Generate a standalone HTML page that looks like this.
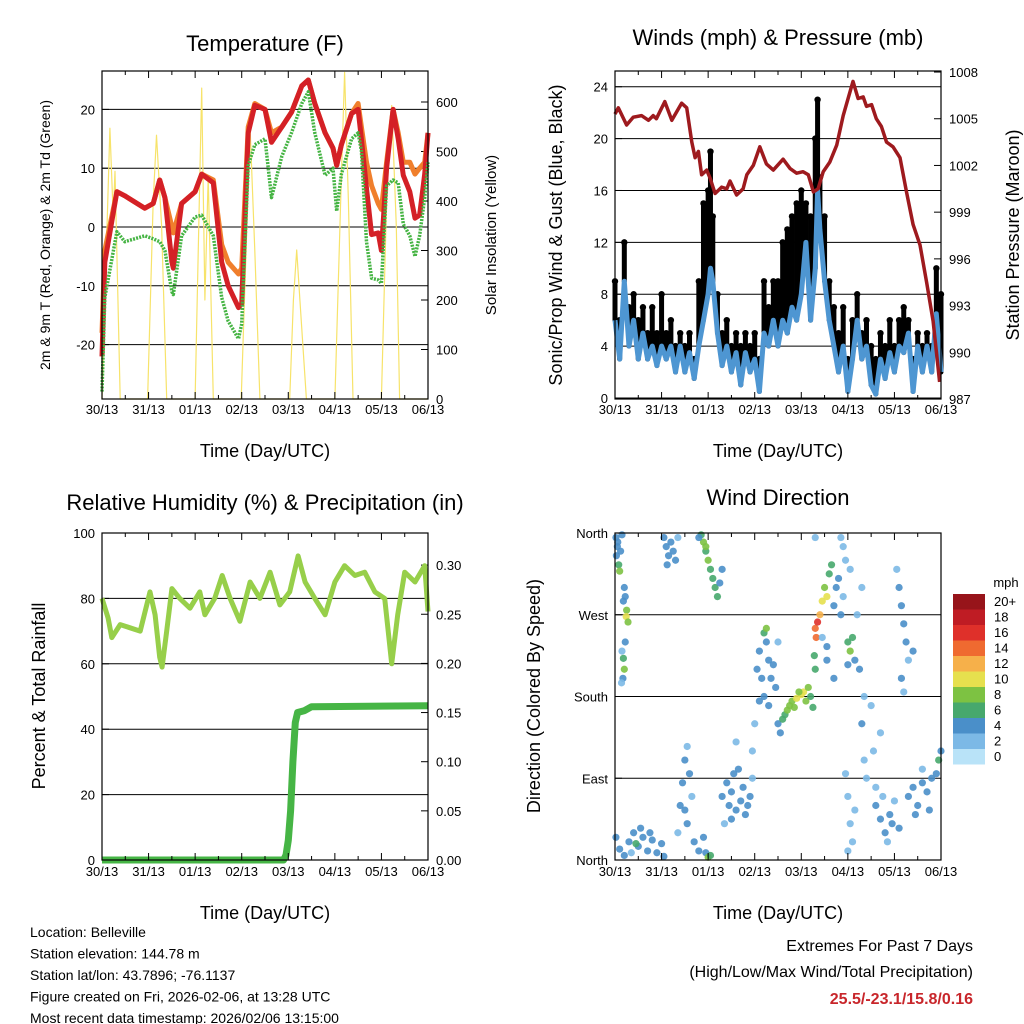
<!DOCTYPE html>
<html><head><meta charset="utf-8"><style>
body{margin:0;background:#fff}
svg{display:block;font-family:"Liberation Sans",sans-serif}
</style></head><body>
<svg id="c" width="1024" height="1024" viewBox="0 0 1024 1024" xmlns="http://www.w3.org/2000/svg">
<rect width="1024" height="1024" fill="#fff"/>
</svg>
<script>
// ---------- data ----------
const dayLabels=["30/13","31/13","01/13","02/13","03/13","04/13","05/13","06/13"];
const tTime=[0,0.06,0.32,0.49,0.92,1.1,1.24,1.35,1.5,1.53,1.71,2.0,2.14,2.39,2.57,2.71,2.93,3.0,3.14,3.28,3.5,3.64,3.86,4.07,4.29,4.43,4.57,4.79,4.96,5.04,5.14,5.36,5.5,5.57,5.68,5.79,5.93,6.0,6.11,6.25,6.36,6.47,6.61,6.72,6.82,6.93,7.0];
const tRed=[-22,-6,6,5.3,3.2,4,8,5,-6,-7,4,6,9,7.5,-6,-10,-13.7,-13,16,20.7,20,14.4,17,19.5,24,25,21,16,13.4,10.5,14,19.3,20,15,6.6,-1.3,-1,-4,10,20,15,8.8,6,1.5,2,9,16];
const tOrange=[-18,-4,6,5.3,3.2,4,8,5,0,-1,4,6,9,8,-3,-6,-8,-7,17,21,20,16,17,19.5,24,25,21,16,13.4,10.5,14,19.3,21,17,11,7,4,3,11,20,16,11,11,9,10,11,16];
const tDew=[-28,-12,-0.8,-2.5,-1.5,-2,-2.5,-4,-11,-11.5,-1.5,1.7,2,-1.5,-12,-16,-19,-16.5,10.5,14,15,5,12,16,21,23,16,8.8,10,2.7,9,15,16,13,-2.5,-8.7,-9,-9.6,7,8,7.5,0.5,-1.5,-5,-1.5,5,11];
const solarTime=[0,0.17,0.24,0.28,0.39,0.98,1.10,1.17,1.28,1.39,2.00,2.14,2.21,2.28,2.39,2.99,3.18,3.28,3.39,4.03,4.11,4.18,4.25,4.39,5.0,5.14,5.21,5.29,5.39,6.0,6.11,6.22,6.32,6.39,7.0];
const solarVal=[0,547,370,460,0,0,400,533,350,0,0,628,200,450,0,0,547,300,0,0,200,301,200,0,0,450,660,400,0,0,400,593,350,0,0];
const presTime=[0,0.07,0.25,0.39,0.57,0.72,0.82,0.89,1.07,1.22,1.43,1.54,1.65,1.72,1.79,1.86,1.97,2.04,2.15,2.29,2.40,2.47,2.61,2.75,2.83,2.97,3.11,3.25,3.40,3.61,3.76,3.90,4.04,4.15,4.26,4.36,4.47,4.61,4.76,4.90,5.11,5.22,5.33,5.40,5.51,5.61,5.72,5.83,5.97,6.12,6.26,6.40,6.55,6.69,6.83,6.97];
const presVal=[1005.3,1005.7,1004.6,1005.1,1005.2,1004.9,1005.2,1005.0,1006.1,1004.9,1006.0,1005.7,1003.5,1002.5,1002.9,1001.4,1001.7,1001.2,1000.2,1000.6,1000.5,1001.0,1000.1,1000.5,1001.4,1002.0,1003.2,1002.1,1001.7,1002.4,1001.8,1001.5,1001.6,1001.4,1000.3,1000.5,1001.6,1002.2,1003.3,1005.2,1007.4,1006.3,1006.4,1005.8,1005.9,1005.0,1004.5,1003.5,1003.2,1002.5,1000.3,998.2,996.9,994.5,992.0,988.1];
const windTime=[0,0.1,0.2,0.3,0.4,0.5,0.6,0.7,0.8,0.9,1.0,1.1,1.2,1.3,1.4,1.5,1.6,1.7,1.8,1.9,2.0,2.05,2.1,2.2,2.3,2.4,2.5,2.6,2.7,2.8,2.9,3.0,3.1,3.2,3.3,3.4,3.5,3.6,3.7,3.8,3.9,4.0,4.1,4.2,4.3,4.35,4.4,4.5,4.6,4.7,4.8,4.9,5.0,5.1,5.2,5.3,5.4,5.5,5.6,5.7,5.8,5.9,6.0,6.1,6.2,6.3,6.4,6.5,6.6,6.7,6.8,6.9,7.0];
const windSpd=[6,3,9,4,6,3,5,3,4,2.5,4,3,4,2,4,2,3.5,1.5,4,6,8,10,9,5,2.5,4,2,3.5,1,3.5,2,3,0.5,5,4,6,4,6,5,7,6,8,12,6,10,16,13,9,6,4,2,4,0.5,3,6,3,4,1,0.3,3,1.5,3.5,2,4,3.5,5,0.5,4,2,4,2,6.5,2];
const windGust=[9,6,12,7,8,6,7,5,7,5,8,5,6,4,5,4,5,3,9,15,16,19,14,8,5,6,4,5,4,5,4,5,3,9,7,9,9,12,13,14,15,16,15,14,20,23,17,14,9,7,5,7,3,6,8,5,6,4,3,5,4,6,4,6,7,6,3,5,4,5,4,10,8];
const rhTime=[0,0.13,0.21,0.39,0.82,1.03,1.14,1.24,1.29,1.39,1.5,1.67,1.89,2.1,2.21,2.42,2.58,2.75,2.96,3.18,3.39,3.61,3.82,4.03,4.21,4.36,4.57,4.79,5.0,5.21,5.43,5.64,5.86,6.07,6.22,6.35,6.5,6.72,6.93,7.0];
const rhVal=[80,74,68,72,70,82,75,62,59,70,83,80,77,82,75,80,87,80,73,85,80,88,78,82,93,85,80,75,85,90,87,88,82,80,60,75,88,85,90,76];
const precipTime=[0,3.9,3.95,4.0,4.05,4.1,4.15,4.2,4.35,4.5,7.0];
const precipVal=[0,0,0.005,0.02,0.05,0.1,0.14,0.15,0.152,0.156,0.157];
const dirTime=[0.02,0.05,0.03,0.08,0.1,0.06,0.12,0.15,0.2,0.22,0.25,0.24,0.28,0.18,0.15,0.18,0.2,0.17,0.14,0.22,
0.02,0.1,0.2,0.3,0.4,0.5,0.6,0.7,0.8,0.9,1.0,1.05,0.35,0.55,0.75,0.45,
1.05,1.1,1.15,1.2,1.25,1.3,1.35,1.12,
1.35,1.4,1.45,1.5,1.55,1.6,1.5,1.55,1.7,1.8,1.9,1.95,2.0,2.05,1.65,
1.85,1.9,1.95,2.0,2.05,2.1,2.15,2.2,1.95,1.8,2.25,2.3,
2.3,2.4,2.45,2.5,2.55,2.6,2.7,2.75,2.8,2.9,2.95,2.5,2.65,2.85,2.35,2.6,3.0,2.95,
3.05,3.1,3.15,3.2,3.25,3.3,3.35,3.4,3.45,3.2,3.1,3.3,3.25,3.5,
3.5,3.55,3.6,3.65,3.7,3.75,3.8,3.9,4.0,4.05,4.1,4.15,4.2,4.25,4.3,4.28,3.85,3.95,
4.3,4.35,4.32,4.4,4.45,4.5,4.55,4.6,4.65,4.7,4.75,4.8,4.85,4.9,4.45,4.55,4.7,4.55,
4.3,4.9,4.95,5.05,4.85,5.0,5.05,5.1,5.15,5.0,
4.95,5.0,5.05,5.1,5.0,5.15,
5.2,5.25,5.3,5.35,5.4,5.5,5.55,5.6,5.3,5.35,5.7,
5.6,5.7,5.75,5.8,5.9,5.95,6.0,6.1,5.85,
6.05,6.1,6.15,6.2,6.25,6.3,6.15,6.4,6.2,
6.3,6.4,6.5,6.6,6.7,6.8,6.9,6.95,7.0,6.45,6.75,6.6];
const dirDeg=[355,345,335,325,318,350,340,358,300,290,275,268,262,285,230,222,210,200,195,240,
25,12,5,20,30,15,25,10,22,8,18,4,8,35,30,18,
355,345,335,350,340,330,355,325,
30,60,85,110,125,95,55,40,20,10,25,8,3,5,70,
358,350,340,330,320,310,300,290,345,355,305,320,
70,85,60,75,95,55,65,80,50,70,90,45,100,60,40,130,150,120,
210,230,200,250,240,220,200,215,190,180,175,170,255,240,
150,140,155,160,165,170,175,178,182,185,175,190,180,168,210,225,168,185,
255,262,245,270,285,300,290,315,325,280,300,310,270,290,245,220,200,235,
355,345,330,320,355,240,230,245,220,215,
95,70,40,20,10,55,
270,210,150,110,90,170,120,80,300,180,140,
60,45,70,30,50,40,65,35,20,
320,300,280,260,240,220,200,230,185,
70,80,60,85,75,90,95,110,120,50,55,100];
const dirSpeed=[3,3,4,6,7,3,4,3,4,4,8,10,7,3,2,6,7,4,2,3,
4,3,3,4,4,3,3,3,4,3,3,4,2,3,3,6,
3,4,4,3,4,3,2,3,
2,3,4,3,2,3,4,3,3,3,4,3,7,6,2,
6,8,6,7,6,6,6,5,8,3,4,4,
4,3,4,3,3,4,3,3,4,3,2,4,3,3,2,1,1,1,
3,4,4,6,4,3,3,4,3,4,3,3,7,1,
4,4,6,6,7,8,8,9,10,9,8,7,6,6,6,6,8,8,
13,16,13,12,10,8,9,6,5,4,4,3,3,2,2,4,4,3,
1,1,2,1,1,6,7,5,4,4,
1,1,2,2,2,1,
2,3,3,2,2,1,2,2,2,2,2,
3,3,2,4,4,3,2,3,2,
2,3,4,4,3,2,3,3,2,
3,4,3,4,3,4,4,6,4,3,3,2];
const speedColors=["#b9e3f8","#7cb9e6","#4a8fc9","#47a86d","#7dc242","#e6e04e","#f6b04a","#ef6a30","#df302a","#bf1c24","#97141a"];
const speedLabels=["0","2","4","6","8","10","12","14","16","18","20+"];

// ---------- helpers ----------
const svg=document.getElementById('c');
const NS='http://www.w3.org/2000/svg';
function el(tag,attrs,parent){const e=document.createElementNS(NS,tag);for(const k in attrs)e.setAttribute(k,attrs[k]);(parent||svg).appendChild(e);return e;}
function txt(s,x,y,size,anchor,parent,extra){const t=el('text',Object.assign({x:x,y:y,'font-size':size,'text-anchor':anchor||'middle',fill:'#000'},extra||{}),parent);t.textContent=s;return t;}
function path(xs,ys,fx,fy){let d='';for(let i=0;i<xs.length;i++)d+=(i?'L':'M')+fx(xs[i]).toFixed(1)+','+fy(ys[i]).toFixed(1);return d;}

function panel(name){
  const g=el('g',{});
  
  
  return g;
}
function frame(g,x0,x1,y0,y1){
  const r=el('rect',{x:x0,y:y0,width:x1-x0,height:y1-y0,fill:'none',stroke:'#000','stroke-width':1.2},g);
  
  
}
function xAxis(g,x0,x1,y0,y1,labY){
  const fx=d=>x0+(x1-x0)*d/7;
  const ax=el('g',{},g);
  
  
  for(let i=0;i<=7;i++){
    const x=fx(i);
    el('line',{x1:x,x2:x,y1:y1,y2:y1-7,stroke:'#000'},ax);
    el('line',{x1:x,x2:x,y1:y0,y2:y0+7,stroke:'#000'},ax);
    const t=txt(dayLabels[i],x,labY,13,'middle',ax);
    
    
    if(i<7){const xm=fx(i+0.5);el('line',{x1:xm,x2:xm,y1:y1,y2:y1-4,stroke:'#000'},ax);el('line',{x1:xm,x2:xm,y1:y0,y2:y0+4,stroke:'#000'},ax);}
  }
  const tt=txt('Time (Day/UTC)',(x0+x1)/2,labY+43,18,'middle',ax);
  
  
  return fx;
}
function yTicks(g,vals,fy,x0,x1,side,fmt,grid){
  const ax=el('g',{},g);
  
  
  vals.forEach(v=>{
    const y=fy(v);
    if(grid)el('line',{x1:x0,x2:x1,y1:y,y2:y,stroke:'#000','stroke-width':1},ax);
    if(side==='L'){el('line',{x1:x0,x2:x0+7,y1:y,y2:y,stroke:'#000'},ax);const t=txt(fmt(v),x0-7,y+5,13,'end',ax);}
    else{el('line',{x1:x1,x2:x1-7,y1:y,y2:y,stroke:'#000'},ax);const t=txt(fmt(v),x1+8,y+5,13,'start',ax);}
  });
}
function vtitle(g,s,x,y,size,name){const t=txt(s,x,y,size,'middle',g,{transform:'rotate(-90 '+x+' '+y+')'});}
function title(g,s,x,y){const t=txt(s,x,y,22,'middle',g);}

// ---------- Panel 1: Temperature ----------
{
const X0=102,X1=428,Y0=71,Y1=399;
const g=panel('temperature-panel');
const fy=v=>227-5.88*v, fs=v=>399-0.495*v;
const fx=d=>X0+(X1-X0)*d/7;
yTicks(g,[-20,-10,0,10,20],fy,X0,X1,'L',v=>String(v),true);
yTicks(g,[0,100,200,300,400,500,600],fs,X0,X1,'R',v=>String(v),false);
const s=el('path',{d:path(solarTime,solarVal,fx,fs),fill:'none',stroke:'#f7e36a','stroke-width':1.2,'stroke-linejoin':'round'},g);


const o=el('path',{d:path(tTime,tOrange,fx,fy),fill:'none',stroke:'#f07f2c','stroke-width':5,'stroke-linejoin':'round'},g);


const r=el('path',{d:path(tTime,tRed,fx,fy),fill:'none',stroke:'#d42026','stroke-width':5,'stroke-linejoin':'round'},g);


const dw=el('path',{d:path(tTime,tDew,fx,fy),fill:'none',stroke:'#45b443','stroke-width':3.5,'stroke-dasharray':'2 1.2','stroke-linejoin':'round'},g);


frame(g,X0,X1,Y0,Y1);
xAxis(g,X0,X1,Y0,Y1,414);
title(g,'Temperature (F)',265,51);
vtitle(g,'2m & 9m T (Red, Orange) & 2m Td (Green)',50,235,14,'left-y-axis-title');
vtitle(g,'Solar Insolation (Yellow)',496,235,15,'right-y-axis-title');
}
// ---------- Panel 2: Winds ----------
{
const X0=615,X1=941,Y0=71,Y1=399;
const g=panel('winds-pressure-panel');
const fy=v=>398-12.97*v, fp=v=>399-15.57*(v-987);
const fx=d=>X0+(X1-X0)*d/7;
yTicks(g,[0,4,8,12,16,20,24],fy,X0,X1,'L',v=>String(v),true);
yTicks(g,[987,990,993,996,999,1002,1005,1008],fp,X0,X1,'R',v=>String(v),false);
windTime.forEach((t,i)=>{
  const b=el('line',{x1:fx(t),x2:fx(t),y1:fy(windSpd[i]),y2:fy(windGust[i]),stroke:'#000','stroke-width':5,'stroke-linecap':'round'},g);
  
  
  const c=el('circle',{cx:fx(t),cy:fy(windGust[i]),r:3.2,fill:'#000'},g);
  
  
});
const bl=el('path',{d:path(windTime,windSpd,fx,fy),fill:'none',stroke:'#4e96d2','stroke-width':5,'stroke-linejoin':'round'},g);


const pl=el('path',{d:path(presTime,presVal,fx,fp),fill:'none',stroke:'#9e1a1e','stroke-width':3.5,'stroke-linejoin':'round'},g);


frame(g,X0,X1,Y0,Y1);
xAxis(g,X0,X1,Y0,Y1,414);
title(g,'Winds (mph) & Pressure (mb)',778,45);
vtitle(g,'Sonic/Prop Wind & Gust (Blue, Black)',562,235,18,'left-y-axis-title');
vtitle(g,'Station Pressure (Maroon)',1019,235,18,'right-y-axis-title');
}
// ---------- Panel 3: RH & precip ----------
{
const X0=102,X1=428,Y0=533,Y1=860;
const g=panel('humidity-precip-panel');
const fy=v=>860-3.27*v, fp=v=>860-983*v;
const fx=d=>X0+(X1-X0)*d/7;
yTicks(g,[0,20,40,60,80,100],fy,X0,X1,'L',v=>String(v),true);
yTicks(g,[0,0.05,0.1,0.15,0.2,0.25,0.3],fp,X0,X1,'R',v=>v.toFixed(2),false);
const pr=el('path',{d:path(precipTime,precipVal,fx,fp),fill:'none',stroke:'#46b545','stroke-width':7,'stroke-linejoin':'round'},g);


const rh=el('path',{d:path(rhTime,rhVal,fx,fy),fill:'none',stroke:'#97cf4a','stroke-width':5,'stroke-linejoin':'round'},g);


frame(g,X0,X1,Y0,Y1);
xAxis(g,X0,X1,Y0,Y1,876);
title(g,'Relative Humidity (%) & Precipitation (in)',265,510);
vtitle(g,'Percent & Total Rainfall',45,696,18,'left-y-axis-title');
}
// ---------- Panel 4: Wind direction ----------
{
const X0=615,X1=941,Y0=533,Y1=860;
const g=panel('wind-direction-panel');
const fy=v=>860-0.9083*v;
const fx=d=>X0+(X1-X0)*d/7;
const dirNames=['North','East','South','West','North'];
yTicks(g,[0,90,180,270,360],fy,X0,X1,'L',v=>dirNames[v/90],true);
dirTime.forEach((t,i)=>{
  const idx=Math.min(10,Math.floor(dirSpeed[i]/2+0.5));
  const c=el('circle',{cx:fx(t),cy:fy(dirDeg[i]),r:3.6,fill:speedColors[idx],opacity:0.9},g);
  
  
});
frame(g,X0,X1,Y0,Y1);
xAxis(g,X0,X1,Y0,Y1,876);
title(g,'Wind Direction',778,505);
vtitle(g,'Direction (Colored By Speed)',540,696,18,'left-y-axis-title');
const lg=el('g',{},g);


txt('mph',1006,587,13,'middle',lg);
for(let i=0;i<11;i++){
  const y=594+(10-i)*15.5;
  const b=el('rect',{x:953,y:y,width:32,height:15.5,fill:speedColors[i]},lg);
  
  
  txt(speedLabels[i],994,y+12,13,'start',lg);
}
}
// ---------- footer ----------
{
const g=el('g',{});


["Location: Belleville","Station elevation: 144.78 m","Station lat/lon: 43.7896; -76.1137","Figure created on Fri, 2026-02-06, at 13:28 UTC","Most recent data timestamp: 2026/02/06 13:15:00"].forEach((s,i)=>txt(s,30,937+i*21.5,14,'start',g));
const e=el('g',{});


txt('Extremes For Past 7 Days',973,951,16,'end',e);
txt('(High/Low/Max Wind/Total Precipitation)',973,977,16,'end',e);
txt('25.5/-23.1/15.8/0.16',973,1004,16,'end',e,{fill:'#c8262b','font-weight':'bold'});
}
</script>
</body></html>
